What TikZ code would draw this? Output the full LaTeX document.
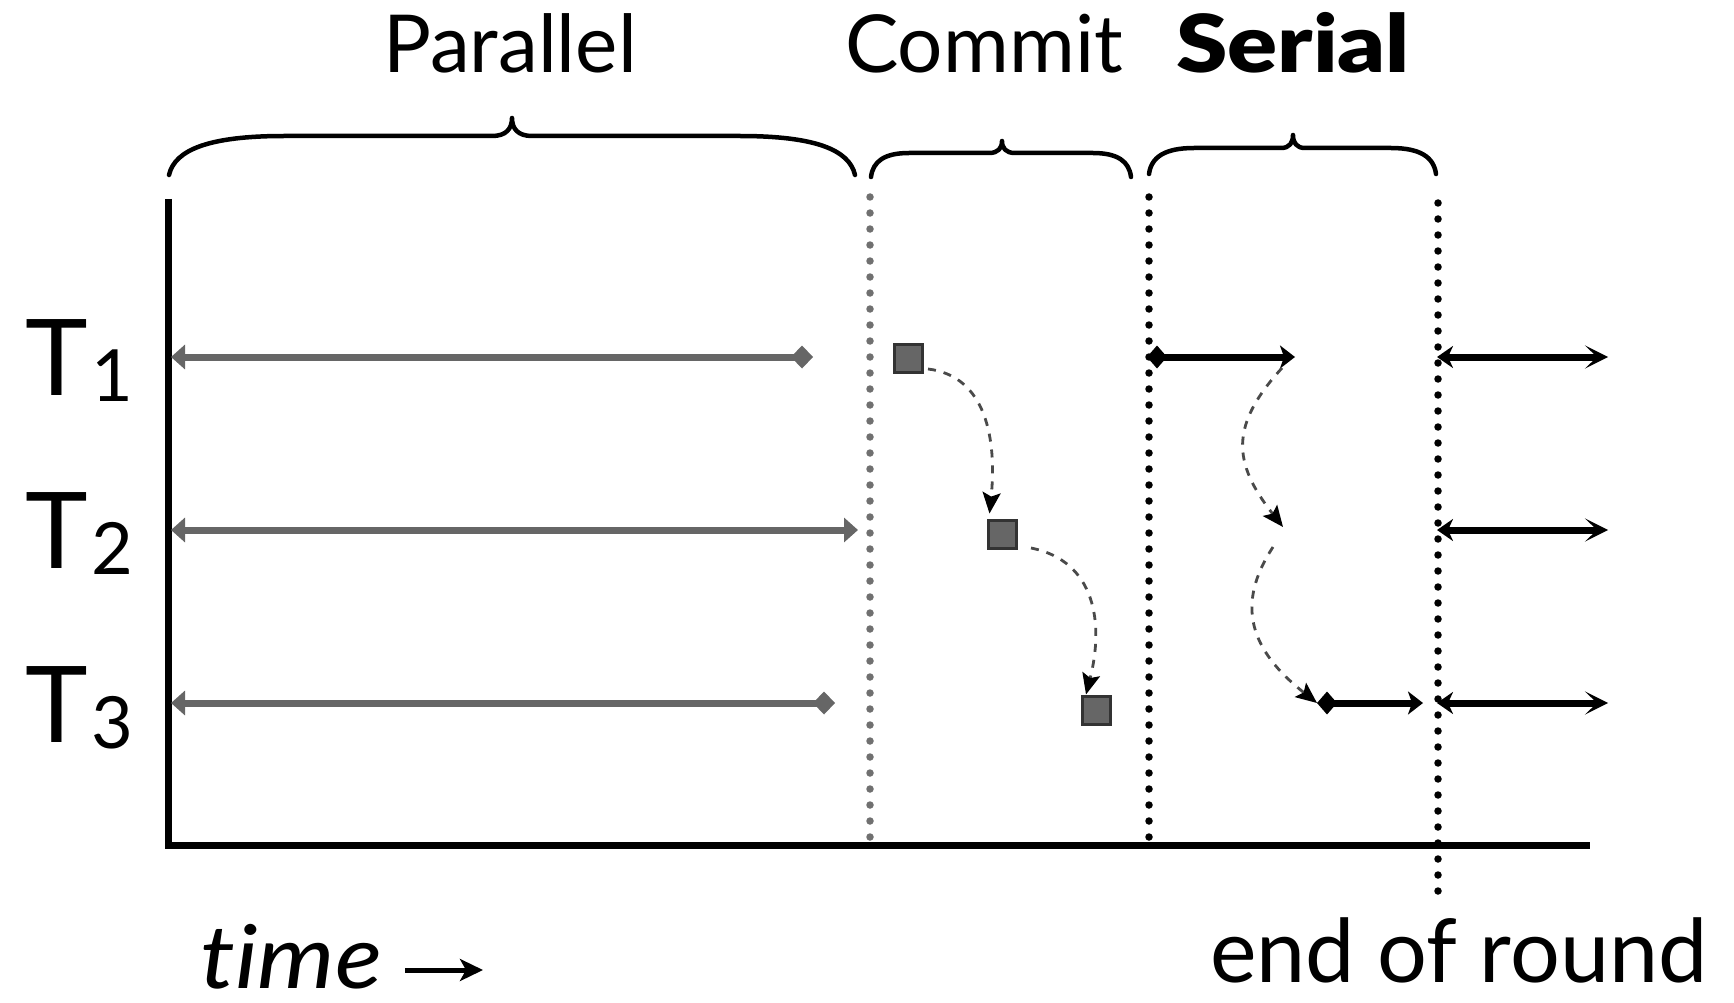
\documentclass[tikz,border=0pt]{standalone}
\usepackage{fontspec}
\usepackage{graphicx}
\setmainfont{Lato}
\IfFontExistsTF{Lato Black}{\newfontface\heavyface{Lato Black}}{\newfontface\heavyface{Lato Bold}[FakeBold=1.5]}
\usetikzlibrary{arrows.meta}

\definecolor{lanegray}{HTML}{666666}
\definecolor{dotgray}{HTML}{707070}
\definecolor{boxedge}{HTML}{333333}
\definecolor{hopgray}{HTML}{4A4A4A}

% stretch a text horizontally to a given width (in pt)
\newsavebox\fitbox
\newcommand\fitto[2]{\sbox\fitbox{#2}\scalebox{\fpeval{#1/\wd\fitbox}}[1]{\usebox\fitbox}}

% brace opening downwards: left x, right x, tip x, end y, bar y, tip y, arm curve width, cusp half-width
\newcommand\kbrace[8]{%
  \draw[bracestroke]
    (#1,#4) .. controls (#1+0.05*#7,#5+0.35*#4-0.35*#5) and (#1+0.35*#7,#5) .. (#1+#7,#5)
    -- (#3-#8,#5) .. controls (#3-0.3*#8,#5) and (#3,#5-0.4*#5+0.4*#6) .. (#3,#6)
    .. controls (#3,#5-0.4*#5+0.4*#6) and (#3+0.3*#8,#5) .. (#3+#8,#5)
    -- (#2-#7,#5) .. controls (#2-0.35*#7,#5) and (#2-0.05*#7,#5+0.35*#4-0.35*#5) .. (#2,#4);}

% thread label with lowered index
\newcommand\tlabel[1]{\fontsize{106}{106}\selectfont T\kern4pt\raisebox{-6pt}{\fontsize{72}{72}\selectfont #1}}

\tikzset{
  axisline/.style={line width=7pt, black},
  bracestroke/.style={line width=4.5pt, line cap=round, line join=round, black},
  toplabel/.style={inner sep=0pt, anchor=base, font=\fontsize{80}{80}\selectfont},
  parlane/.style={line width=7pt, lanegray},
  serlane/.style={line width=7pt, black},
  dotline/.style={line width=7.5pt, line cap=round, dash pattern=on 0pt off 16pt},
  commitbox/.style={draw=boxedge, fill=lanegray, line width=3pt, minimum size=28pt, inner sep=0pt},
  hop/.style={hopgray, line width=2.8pt, dash pattern=on 8pt off 8pt,
    -{Stealth[length=21pt, width=18pt, inset=4pt, black, sep=0pt]}},
  gtri/.tip={Triangle[length=14pt, width=24pt]},
  gdia/.tip={Diamond[length=22pt, width=23pt]},
  bdia/.tip={Diamond[length=20pt, width=23pt]},
  bhead/.tip={Stealth[length=15pt, width=23pt, inset=4pt]},
  rhead/.tip={Stealth[length=23pt, width=23pt, inset=12pt]},
  lhead/.tip={Stealth[length=16pt, width=22pt, inset=5pt]},
}

\begin{document}
\begin{tikzpicture}[x=1pt, y=-1pt]
\useasboundingbox (0,0) rectangle (1734,1003);

% headings
\node[toplabel] (par) at (510,73) {Parallel};
\node[toplabel] (com) at (984,73) {Commit};
\node[toplabel] (ser) at (1293,73) {\fitto{234}{\heavyface Serial}};

% braces under the headings
\kbrace{169}{855}{512}{175}{136}{118}{115}{20}
\kbrace{871}{1131}{1002}{177}{153}{141}{38}{13}
\kbrace{1149}{1436}{1293}{174}{148}{135}{45}{12}

% phase boundaries
\coordinate (g1t) at (870,197);  \coordinate (g1b) at (870,840);
\coordinate (g2t) at (1149,197); \coordinate (g2b) at (1149,840);
\coordinate (g3t) at (1438,203); \coordinate (g3b) at (1438,893);
\draw[dotline, dotgray] (g1t) -- (g1b);
\draw[dotline, black] (g2t) -- (g2b);
\draw[dotline, black] (g3t) -- (g3b);

% axes
\coordinate (ytop) at (168,199);
\coordinate (xend) at (1590,845);
\draw[axisline] (ytop) |- (xend);

% thread labels
\node[anchor=base west, inner sep=0pt] (t1) at (25,395) {\tlabel{1}};
\node[anchor=base west, inner sep=0pt] (t2) at (25,568) {\tlabel{2}};
\node[anchor=base west, inner sep=0pt] (t3) at (25,742) {\tlabel{3}};

% parallel phase
\coordinate (p1a) at (171,357); \coordinate (p1b) at (813,357);
\coordinate (p2a) at (171,530); \coordinate (p2b) at (858,530);
\coordinate (p3a) at (171,703); \coordinate (p3b) at (835,703);
\draw[parlane, {gtri}-{gdia}] (p1a) -- (p1b);
\draw[parlane, {gtri}-{gtri}] (p2a) -- (p2b);
\draw[parlane, {gtri}-{gdia}] (p3a) -- (p3b);

% commit phase
\node[commitbox] (c1) at (908,358) {};
\node[commitbox] (c2) at (1002,534) {};
\node[commitbox] (c3) at (1096,710) {};
\draw[hop] ([xshift=4.5pt, yshift=4.5pt]c1.south east)
  .. controls +(58,7) and +(7.5,-74.5) .. ([xshift=3pt, yshift=5pt]c2.north west);
\draw[hop] ([xshift=13.5pt, yshift=1.5pt]c2.south east)
  .. controls +(65,13) and +(18,-70.5) .. ([xshift=5.5pt]c3.north west);

% serial phase
\coordinate (s1a) at (1147,357); \coordinate (s1b) at (1295,357);
\coordinate (s2in) at (1283,527); \coordinate (s2out) at (1273,547);
\coordinate (s3a) at (1317,703); \coordinate (s3b) at (1423,703);
\draw[serlane, {bdia}-{bhead}] (s1a) -- (s1b);
\draw[serlane, {bdia}-{bhead}] (s3a) -- (s3b);
\draw[hop] ([xshift=-13pt, yshift=-11pt]s1b)
  .. controls +(-52,57) and +(-51,-65) .. (s2in);
\draw[hop] (s2out)
  .. controls +(-38,58) and +(-67,-53) .. (s3a);

% next round
\coordinate (e1a) at (1437,357); \coordinate (e1b) at (1608,357);
\coordinate (e2a) at (1437,530); \coordinate (e2b) at (1608,530);
\coordinate (e3a) at (1437,703); \coordinate (e3b) at (1608,703);
\draw[serlane, {lhead}-{rhead}] (e1a) -- (e1b);
\draw[serlane, {lhead}-{rhead}] (e2a) -- (e2b);
\draw[serlane, {lhead}-{rhead}] (e3a) -- (e3b);

% footer
\node[anchor=base west, inner sep=0pt, font=\fontsize{88}{88}\selectfont] (time) at (200,988)
  {\fitto{182}{\itshape\addfontfeature{Ligatures=NoCommon}time}};
\coordinate (tstart) at (405,970); \coordinate (tend) at (483,970);
\draw[line width=5pt, -{Stealth[length=23pt, width=22pt, inset=6pt]}] (tstart) -- (tend);
\node[anchor=base west, inner sep=0pt, font=\fontsize{88}{88}\selectfont] (eor) at (1210,982) {end of round};
\end{tikzpicture}
\end{document}
